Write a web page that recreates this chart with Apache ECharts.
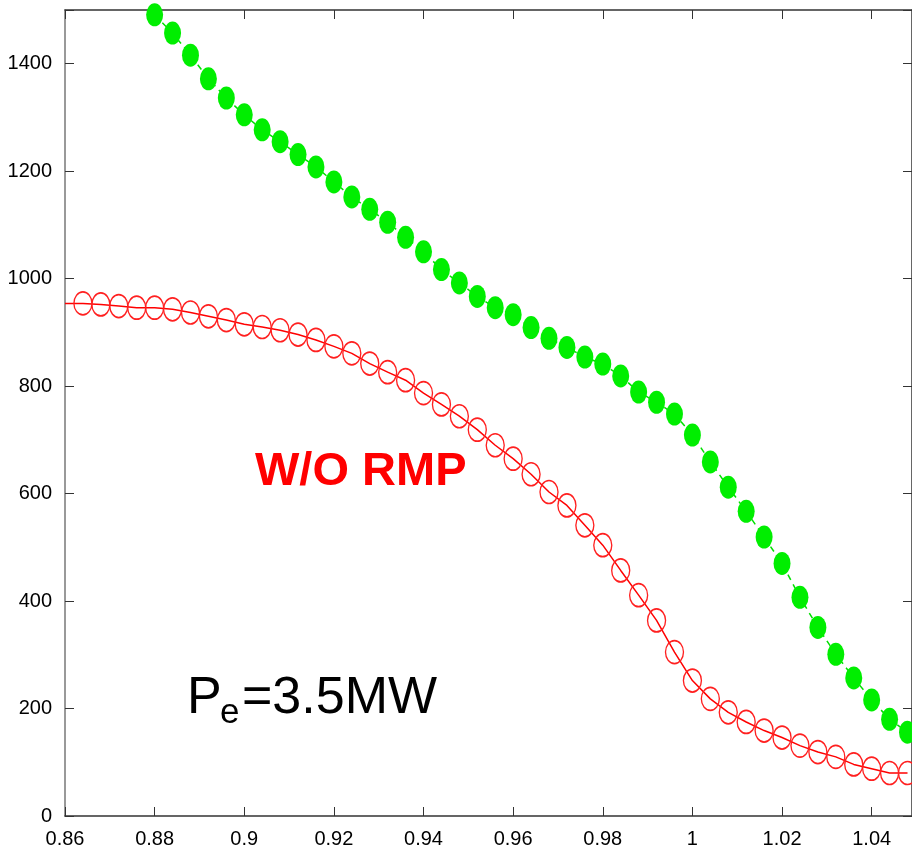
<!DOCTYPE html>
<html>
<head>
<meta charset="utf-8">
<script src="https://cdn.jsdelivr.net/npm/echarts@6/dist/echarts.min.js"></script>
<style>
html,body{margin:0;padding:0;background:#fff;}
#chart{width:912px;height:855px;}
</style>
</head>
<body>
<div id="chart"></div>
<script>
// ---- data ----
var xRed = [0.86, 0.864, 0.868, 0.872, 0.876, 0.88, 0.884, 0.888, 0.892, 0.896, 0.9, 0.904, 0.908, 0.912, 0.916, 0.92,
            0.924, 0.928, 0.932, 0.936, 0.94, 0.944, 0.948, 0.952, 0.956, 0.96, 0.964, 0.968, 0.972, 0.976, 0.98,
            0.984, 0.988, 0.992, 0.996, 1.0, 1.004, 1.008, 1.012, 1.016, 1.02, 1.024, 1.028, 1.032, 1.036, 1.04, 1.044, 1.048];
var yRed = [954, 954, 952, 949, 946, 946, 943, 937, 930, 923, 915, 910, 904, 896, 886, 874,
            861, 842, 826, 811, 787, 766, 744, 719, 690, 665, 636, 603, 578, 541, 504,
            457, 411, 364, 305, 252, 218, 193, 175, 159, 146, 131, 119, 110, 96, 88, 80, 80];
var redMarkerHidden = [0.86];

var xGreen = [0.88, 0.884, 0.888, 0.892, 0.896, 0.9, 0.904, 0.908, 0.912, 0.916, 0.92, 0.924, 0.928, 0.932, 0.936, 0.94,
              0.944, 0.948, 0.952, 0.956, 0.96, 0.964, 0.968, 0.972, 0.976, 0.98, 0.984, 0.988, 0.992, 0.996, 1.0,
              1.004, 1.008, 1.012, 1.016, 1.02, 1.024, 1.028, 1.032, 1.036, 1.04, 1.044, 1.048];
var yGreen = [1491, 1457, 1416, 1372, 1336, 1305, 1277, 1255, 1231, 1208, 1180, 1152, 1129, 1105, 1077, 1050,
              1017, 992, 967, 946, 933, 909, 889, 872, 854, 841, 819, 789, 770, 748, 709,
              659, 612, 567, 519, 470, 407, 351, 301, 257, 216, 180, 156];

var xTickLabels = ['0.86', '0.88', '0.9', '0.92', '0.94', '0.96', '0.98', '1', '1.02', '1.04'];
var yTickLabels = ['0', '200', '400', '600', '800', '1000', '1200', '1400'];

var annotationMain = 'W/O RMP';
var annotationP = 'P';
var annotationSub = 'e';
var annotationRest = '=3.5MW';

// ---- build ----
var labelFont = "'Liberation Sans Narrow', 'Arial Narrow', 'Liberation Sans', Arial, sans-serif";

function fmtX(v) {
  var s = String(parseFloat(v.toFixed(3)));
  return xTickLabels.indexOf(s) >= 0 ? s : '';
}
function fmtY(v) {
  var s = String(Math.round(v));
  return yTickLabels.indexOf(s) >= 0 ? s : '';
}

var redData = xRed.map(function (x, i) {
  var d = { value: [x, yRed[i]] };
  if (redMarkerHidden.indexOf(x) >= 0) d.symbol = 'none';
  return d;
});
var greenData = xGreen.map(function (x, i) { return [x, yGreen[i]]; });

var axisLineStyle = { color: '#333', width: 1.5 };

var chart = echarts.init(document.getElementById('chart'), null, { renderer: 'canvas' });
chart.setOption({
  animation: false,
  backgroundColor: '#ffffff',
  grid: { left: 65, top: 10, width: 851, height: 806 },
  xAxis: [{
    type: 'value', min: 0.86, max: 1.049, interval: 0.02, position: 'bottom',
    axisLine: { show: true, onZero: false, lineStyle: axisLineStyle },
    axisTick: { show: true, inside: true, length: 9, lineStyle: { color: '#333', width: 1 } },
    axisLabel: { formatter: fmtX, color: '#000', fontFamily: labelFont, fontSize: 20, margin: 13, showMaxLabel: false },
    splitLine: { show: false }
  }, {
    type: 'value', min: 0.86, max: 1.049, interval: 0.02, position: 'top',
    axisLine: { show: true, onZero: false, lineStyle: axisLineStyle },
    axisTick: { show: true, inside: true, length: 9, lineStyle: { color: '#333', width: 1 } },
    axisLabel: { show: false },
    splitLine: { show: false }
  }],
  yAxis: [{
    type: 'value', min: 0, max: 1500, interval: 200, position: 'left',
    axisLine: { show: true, onZero: false, lineStyle: { color: '#777', width: 1.5 } },
    axisTick: { show: true, inside: true, length: 9, lineStyle: { color: '#333', width: 1 } },
    axisLabel: { formatter: fmtY, color: '#000', fontFamily: labelFont, fontSize: 20, margin: 13 },
    splitLine: { show: false }
  }, {
    type: 'value', min: 0, max: 1500, interval: 200, position: 'right',
    axisLine: { show: true, onZero: false, lineStyle: axisLineStyle },
    axisTick: { show: true, inside: true, length: 9, lineStyle: { color: '#333', width: 1 } },
    axisLabel: { show: false },
    splitLine: { show: false }
  }],
  series: [{
    name: 'W/O RMP', type: 'line', xAxisIndex: 0, yAxisIndex: 0,
    data: redData, clip: false,
    symbol: 'circle', symbolSize: [18, 23], showAllSymbol: true,
    lineStyle: { color: '#ff0000', width: 1.5 },
    itemStyle: { color: 'rgba(0,0,0,0)', borderColor: '#ff2020', borderWidth: 1.5 },
    z: 2
  }, {
    name: 'with RMP', type: 'line', xAxisIndex: 0, yAxisIndex: 0,
    data: greenData, clip: false,
    symbol: 'circle', symbolSize: [17, 23], showAllSymbol: true,
    lineStyle: { color: '#00e000', width: 1.5, type: [6, 5] },
    itemStyle: { color: '#00ee00', borderWidth: 0 },
    z: 3
  }],
  graphic: [
    { type: 'text', left: 255, top: 449, z: 10,
      style: { text: annotationMain, fill: '#ff0000', font: "bold 47px 'Liberation Sans', Arial, sans-serif" } },
    { type: 'text', left: 187, top: 673, z: 10,
      style: { text: annotationP, fill: '#000', font: "52px 'Liberation Sans', Arial, sans-serif" } },
    { type: 'text', left: 220, top: 696, z: 10,
      style: { text: annotationSub, fill: '#000', font: "35px 'Liberation Sans', Arial, sans-serif" } },
    { type: 'text', left: 242, top: 673, z: 10,
      style: { text: annotationRest, fill: '#000', font: "52px 'Liberation Sans', Arial, sans-serif" } }
  ]
});
</script>
</body>
</html>
